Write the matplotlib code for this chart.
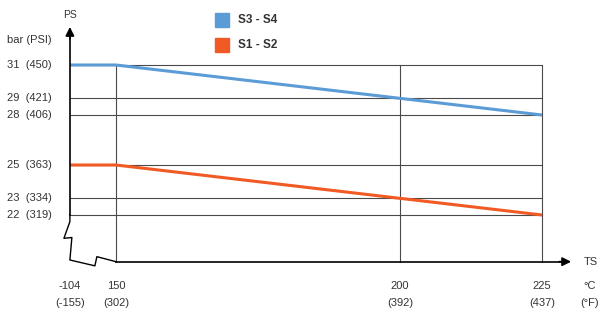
import matplotlib.pyplot as plt

plt.rcParams["font.family"] = ["Liberation Sans", "DejaVu Sans"]

# data
temps_c = [-104, 150, 200, 225]
temps_f = ["(-155)", "(302)", "(392)", "(437)"]
s3_s4 = [31, 31, 29, 28]
s1_s2 = [25, 25, 23, 22]
p_bar = [31, 29, 28, 25, 23, 22]
p_psi = [450, 421, 406, 363, 334, 319]

BLUE = "#5b9bd6"
ORANGE = "#f15a24"


def xpos(t):
    # broken axis: everything below 150 sits just left of the 150 line
    return t if t >= 150 else 141.9


xs = [xpos(t) for t in temps_c]
x0 = xs[0]
x_base = 19.2  # level of the TS axis

fig = plt.figure(figsize=(6, 3.11), dpi=100)
ax = fig.add_axes([0, 0, 1, 1])
ax.set_xlim(129.6, 235.2)
ax.set_ylim(16.24, 34.9)
ax.axis("off")

grid = dict(color="#4a4a4a", lw=0.8, zorder=1)
# horizontal lines
for p in p_bar:
    ax.plot([x0, temps_c[-1]], [p, p], **grid)
# vertical lines
for t in temps_c[1:]:
    ax.plot([t, t], [x_base, p_bar[0]], **grid)

# series
ax.plot(xs, s1_s2, color=ORANGE, lw=2.2, solid_capstyle="butt", zorder=3)
ax.plot(xs, s3_s4, color=BLUE, lw=2.2, solid_capstyle="butt", zorder=3)

# y axis with break zigzag
ax.plot([x0, x0], [p_bar[-1], 33.0], color="black", lw=1.2, zorder=4)
zig_x = [x0, x0, 140.85, 142.25, x0, 146.3, 146.65, 150]
zig_y = [22, 21.6, 20.6, 20.65, 19.3, 18.95, 19.5, 19.2]
ax.plot(zig_x, zig_y, color="black", lw=1.0, zorder=4)
ax.annotate("", xy=(x0, 33.45), xytext=(x0, 32.4),
            arrowprops=dict(arrowstyle="-|>", color="black", lw=1.2,
                            mutation_scale=13))
# x axis
ax.plot([150, 229.5], [x_base, x_base], color="black", lw=1.2, zorder=4)
ax.annotate("", xy=(230.6, x_base), xytext=(227.5, x_base),
            arrowprops=dict(arrowstyle="-|>", color="black", lw=1.2,
                            mutation_scale=13))

fs = 8
tc = "#333333"
# y labels
for p, psi in zip(p_bar, p_psi):
    ax.text(130.9, p, f"{p}  ({psi})", fontsize=fs, color=tc, ha="left", va="center")
ax.text(130.9, 32.5, "bar (PSI)", fontsize=fs, color=tc, ha="left", va="center")
ax.text(x0, 34.0, "PS", fontsize=7.5, color=tc, ha="center", va="center")

# x labels
for x, t, f in zip(xs, temps_c, temps_f):
    ax.text(x, 17.74, str(t), fontsize=fs, color=tc, ha="center", va="center")
    ax.text(x, 16.72, f, fontsize=fs, color=tc, ha="center", va="center")
ax.text(233.4, 17.74, "°C", fontsize=fs, color=tc, ha="center", va="center")
ax.text(233.4, 16.72, "(°F)", fontsize=fs, color=tc, ha="center", va="center")
ax.text(234.9, x_base, "TS", fontsize=fs, color=tc, ha="right", va="center")

# legend
for y, c, lab in [(33.7, BLUE, "S3 - S4"), (32.2, ORANGE, "S1 - S2")]:
    ax.plot([168.7], [y], marker="s", ms=10, color=c, ls="none")
    ax.text(171.4, y, lab, fontsize=8.5, color=tc, ha="left", va="center",
            fontweight="bold")

fig.savefig("out.png", dpi=100, facecolor="white")
